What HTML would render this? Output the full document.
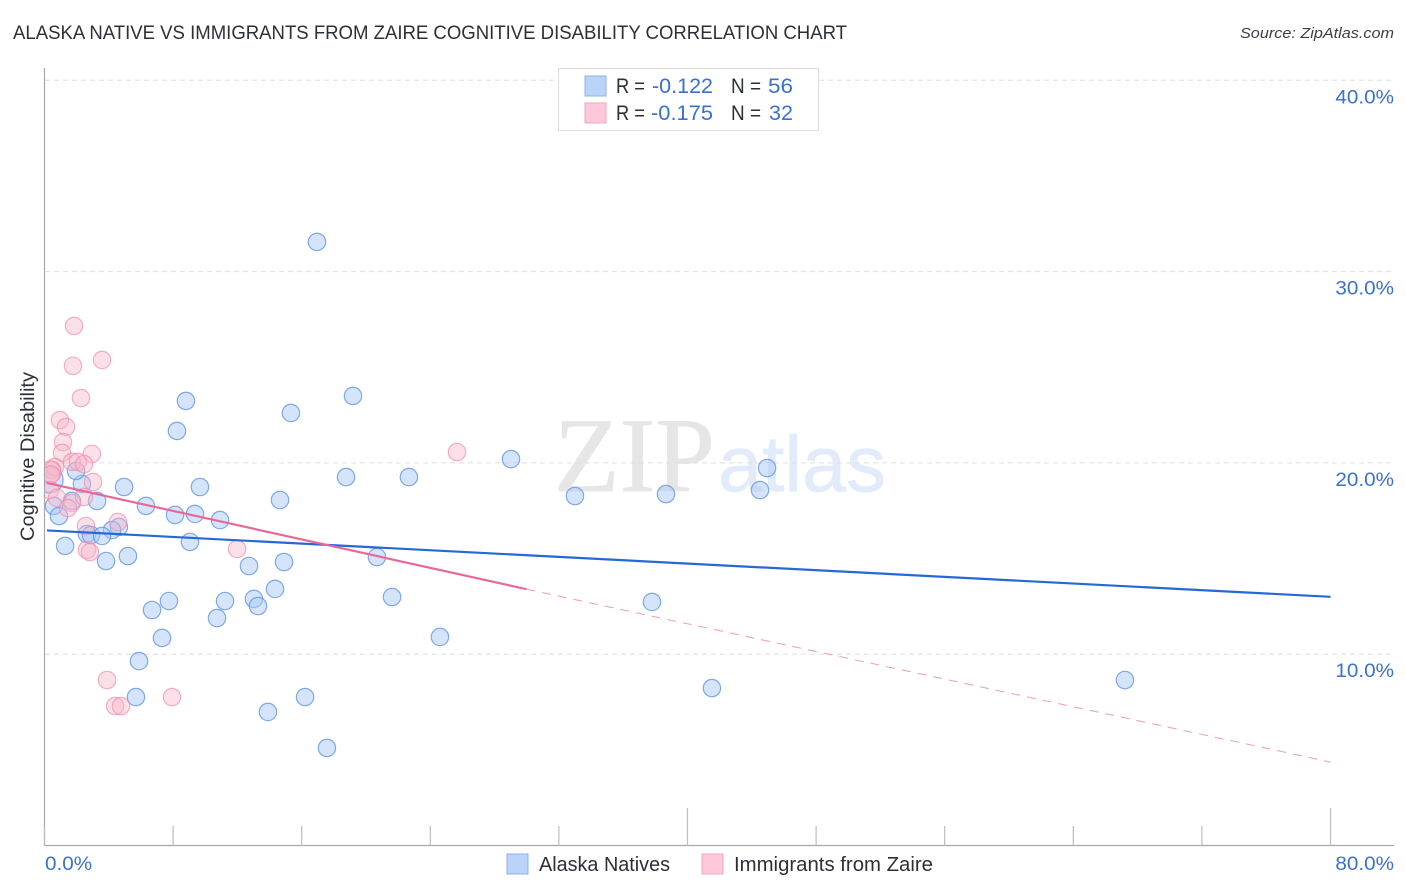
<!DOCTYPE html>
<html lang="en">
<head>
<meta charset="utf-8">
<title>Alaska Native vs Immigrants from Zaire Cognitive Disability Correlation Chart</title>
<style>
html,body{margin:0;padding:0;background:#fff;}
svg{display:block;font-family:"Liberation Sans",sans-serif;}
</style>
</head>
<body>
<svg id="chart" xmlns="http://www.w3.org/2000/svg" width="1406" height="892" viewBox="0 0 1406 892">
  <defs><clipPath id="plot-clip"><rect x="45" y="60" width="1350" height="785"/></clipPath></defs>
  <text x="13" y="39" font-size="19" fill="#2b3038" textLength="834" lengthAdjust="spacingAndGlyphs">ALASKA NATIVE VS IMMIGRANTS FROM ZAIRE COGNITIVE DISABILITY CORRELATION CHART</text>
  <text x="1394" y="38" font-size="15" font-style="italic" fill="#3a3f47" text-anchor="end" textLength="154" lengthAdjust="spacingAndGlyphs">Source: ZipAtlas.com</text>
  <g>
    <text x="554" y="491" font-family="'Liberation Serif',serif" font-size="106" fill="#e6e6e6" stroke="#e6e6e6" stroke-width="0.7" textLength="161" lengthAdjust="spacingAndGlyphs">ZIP</text>
    <text x="718" y="491" font-size="79" fill="#e2ebfa" stroke="#e2ebfa" stroke-width="0.7" textLength="168" lengthAdjust="spacingAndGlyphs">atlas</text>
  </g>
  <g id="grid"></g>
  <g id="axes"></g>
  <g id="marks" clip-path="url(#plot-clip)"></g>
  <g id="trends"></g>
  <g id="ticks"></g>
  <text transform="translate(34 456.5) rotate(-90)" font-size="19" fill="#2b3038" text-anchor="middle" textLength="169" lengthAdjust="spacingAndGlyphs">Cognitive Disability</text>

  <g>
    <rect x="558.5" y="68.5" width="260" height="62" fill="#fff" fill-opacity="0.9" stroke="#dcdcdc" stroke-width="1"/>
    <rect x="585" y="76" width="21" height="20" fill="#b9d4f8" stroke="#8db3e8" stroke-width="1"/>
    <rect x="585" y="103" width="21" height="20" fill="#fdc8d9" stroke="#f3a9c0" stroke-width="1"/>
    <g font-size="21" fill="#2b3038">
      <text x="616" y="93" textLength="29" lengthAdjust="spacingAndGlyphs">R =</text>
      <text x="731" y="93" textLength="30" lengthAdjust="spacingAndGlyphs">N =</text>
      <text x="616" y="120" textLength="29" lengthAdjust="spacingAndGlyphs">R =</text>
      <text x="731" y="120" textLength="30" lengthAdjust="spacingAndGlyphs">N =</text>
    </g>
    <g font-size="21" fill="#3a70d0">
      <text x="713" y="93" text-anchor="end" textLength="61" lengthAdjust="spacingAndGlyphs">-0.122</text>
      <text x="793" y="93" text-anchor="end" textLength="25" lengthAdjust="spacingAndGlyphs">56</text>
      <text x="713" y="120" text-anchor="end" textLength="62" lengthAdjust="spacingAndGlyphs">-0.175</text>
      <text x="793" y="120" text-anchor="end" textLength="24" lengthAdjust="spacingAndGlyphs">32</text>
    </g>
  </g>

  <g>
    <g>
      <rect x="507" y="854" width="21" height="20" fill="#b9d4f8" stroke="#8db3e8" stroke-width="1"/>
      <text x="539" y="871" font-size="20" fill="#2b3038" textLength="131" lengthAdjust="spacingAndGlyphs">Alaska Natives</text>
    </g>
    <g>
      <rect x="702" y="854" width="21" height="20" fill="#fdc8d9" stroke="#f3a9c0" stroke-width="1"/>
      <text x="734" y="871" font-size="20" fill="#2b3038" textLength="199" lengthAdjust="spacingAndGlyphs">Immigrants from Zaire</text>
    </g>
  </g>
</svg>
<script>
// Chart data (percent values)
const blueX = [16.95,19.19,8.80,15.33,8.24,29.02,44.95,18.76,22.67,9.67,4.95,2.33,44.51,33.00,38.66,14.65,3.27,1.71,0.59,6.31,8.12,9.36,0.90,10.92,4.63,4.20,2.64,2.89,3.58,9.05,1.28,5.19,3.83,20.68,14.90,12.72,14.34,21.62,7.74,11.23,13.03,13.28,37.79,6.69,10.73,7.31,24.60,5.88,41.52,67.21,5.69,16.21,13.90,17.57,1.96,0.35];
const blueY = [31.55,23.50,23.24,22.61,21.67,20.20,19.73,19.26,19.26,18.74,18.74,18.90,18.58,18.27,18.37,18.06,18.01,18.01,17.75,17.75,17.28,17.33,17.22,17.01,16.65,16.49,16.28,16.23,16.18,15.87,15.66,15.13,14.87,15.08,14.82,14.61,13.41,12.99,12.78,12.78,12.89,12.52,12.73,12.31,11.89,10.85,10.90,9.64,8.23,8.65,7.76,7.76,6.98,5.10,19.58,19.11];
const pinkX = [1.84,1.77,3.58,2.27,0.96,1.34,1.15,2.95,1.09,1.71,2.08,2.46,0.65,0.47,0.34,3.02,0.34,0.78,1.71,1.46,2.58,4.57,2.64,2.83,11.98,25.66,3.89,7.93,4.39,4.76,0.40,2.46];
const pinkY = [27.16,25.07,25.38,23.39,22.24,21.88,21.09,20.47,20.52,20.05,20.05,19.94,19.79,19.63,19.52,19.00,18.58,18.17,17.90,17.64,16.70,16.91,15.45,15.34,15.50,20.57,8.65,7.76,7.29,7.29,19.40,18.22];
const blueLargePoints = [55];
const pinkLargePoints = [14];
const blueTrendX = [0.15,80];
const blueTrendY = [16.47,13.0];
const pinkTrendX = [0.15,29.98];
const pinkTrendY = [18.95,13.4];
const pinkDashX = [29.98,80];
const pinkDashY = [13.4,4.36];
const xTicks = [0,8,16,24,32,40,48,56,64,72,80];
const xMajorTicks = [40,80];
const xTickLabels = [0,80];
const yGrid = [10,20,30,40];

const NS = 'http://www.w3.org/2000/svg';
const xScale = v => 44.5 + v * 16.075;
const yScale = v => 845.5 - v * 19.13;
function make(tag, attrs, parent) {
  const el = document.createElementNS(NS, tag);
  for (const k in attrs) el.setAttribute(k, attrs[k]);
  parent.appendChild(el);
  return el;
}
function widen(label) {
  label.setAttribute('textLength', (label.getComputedTextLength() * 1.06).toFixed(1));
  label.setAttribute('lengthAdjust', 'spacingAndGlyphs');
}
const grid = document.getElementById('grid');
const axes = document.getElementById('axes');
const marks = document.getElementById('marks');
const trends = document.getElementById('trends');
const ticks = document.getElementById('ticks');

yGrid.forEach(v => {
  const line = make('line', {x1: 45, x2: 1394, y1: yScale(v), y2: yScale(v), stroke: '#dedede', 'stroke-width': 1, 'stroke-dasharray': '5 4'}, grid);
  
  
  const label = make('text', {x: 1394, y: yScale(v) + 23, 'font-size': 19.5, fill: '#3a70d0', 'text-anchor': 'end'}, ticks);
  label.textContent = v.toFixed(1) + '%';
  
  
  widen(label);
});

const yAxis = make('line', {x1: 44.5, x2: 44.5, y1: 68, y2: 846, stroke: '#a8a8a8', 'stroke-width': 1.2}, axes);


const xAxis = make('line', {x1: 44, x2: 1394, y1: 845.5, y2: 845.5, stroke: '#a8a8a8', 'stroke-width': 1.2}, axes);


xTicks.forEach(v => {
  const top = xMajorTicks.includes(v) ? 808 : 826;
  const tick = make('line', {x1: xScale(v), x2: xScale(v), y1: top, y2: 845.5, stroke: '#bcbcbc', 'stroke-width': 1.2}, axes);
  
  
});
xTickLabels.forEach(v => {
  const isFirst = v === xTickLabels[0];
  const label = make('text', {x: isFirst ? 45 : 1394, y: 870, 'font-size': 19.5, fill: '#3a70d0', 'text-anchor': isFirst ? 'start' : 'end'}, ticks);
  label.textContent = v.toFixed(1) + '%';
  
  
  widen(label);
});

blueX.forEach((v, i) => {
  const radius = blueLargePoints.includes(i) ? 13 : 8.7;
  const dot = make('circle', {cx: xScale(v), cy: yScale(blueY[i]), r: radius, fill: '#a9c9f5', 'fill-opacity': 0.5, stroke: '#5b8fe0', 'stroke-opacity': 0.75, 'stroke-width': 1.2}, marks);
  
  
});
pinkX.forEach((v, i) => {
  const radius = pinkLargePoints.includes(i) ? 11 : 8.7;
  const dot = make('circle', {cx: xScale(v), cy: yScale(pinkY[i]), r: radius, fill: '#f9b4c9', 'fill-opacity': 0.42, stroke: '#ee8fae', 'stroke-opacity': 0.7, 'stroke-width': 1.2}, marks);
  
  
});

const blueTrend = make('line', {x1: xScale(blueTrendX[0]), y1: yScale(blueTrendY[0]), x2: xScale(blueTrendX[1]), y2: yScale(blueTrendY[1]), stroke: '#2469d6', 'stroke-width': 2.2}, trends);


const pinkTrend = make('line', {x1: xScale(pinkTrendX[0]), y1: yScale(pinkTrendY[0]), x2: xScale(pinkTrendX[1]), y2: yScale(pinkTrendY[1]), stroke: '#e8689a', 'stroke-width': 2.2}, trends);


const pinkDash = make('line', {x1: xScale(pinkDashX[0]), y1: yScale(pinkDashY[0]), x2: xScale(pinkDashX[1]), y2: yScale(pinkDashY[1]), stroke: '#ee9ab8', 'stroke-width': 1, 'stroke-dasharray': '9 7'}, trends);


</script>
</body>
</html>
